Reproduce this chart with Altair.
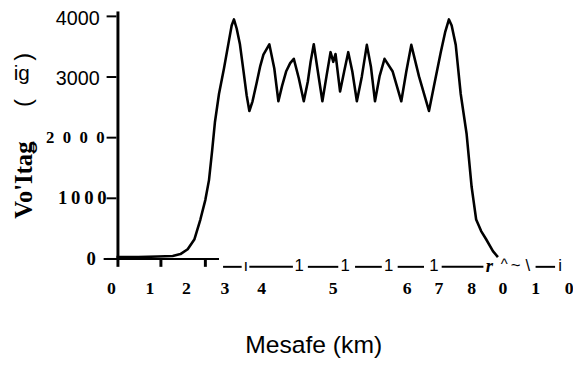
import altair as alt
import pandas as pd

# ---- data ----
dist_km = [0.00, 0.48, 0.91, 1.24, 1.41, 1.57, 1.72, 1.85, 1.96, 2.04, 2.11, 2.17, 2.26, 2.37,
           2.48, 2.54, 2.59, 2.65, 2.72, 2.80, 2.87, 2.93, 3.00, 3.09, 3.17, 3.24, 3.37, 3.48, 3.57,
           3.65, 3.74, 3.83, 3.91, 4.02, 4.13, 4.22, 4.28, 4.35, 4.43, 4.54, 4.63, 4.72, 4.78, 4.83,
           4.93, 5.02, 5.11, 5.20, 5.30, 5.41, 5.52, 5.61, 5.70, 5.80, 5.91, 6.09, 6.28, 6.39,
           6.50, 6.67, 6.89, 7.00, 7.15, 7.25, 7.33, 7.39, 7.48, 7.59, 7.72, 7.83, 7.87, 7.93, 8.04,
           8.15, 8.30, 8.41]
voltage = [30, 30, 40, 50, 80, 160, 325, 650, 975, 1300, 1790, 2250, 2720, 3140,
           3600, 3850, 3950, 3800, 3550, 3100, 2700, 2440, 2600, 2900, 3180, 3370, 3540, 3140, 2600,
           2850, 3090, 3230, 3300, 2980, 2600, 2930, 3250, 3540, 3140, 2600, 3010, 3410, 3250, 3380,
           2760, 3090, 3410, 3090, 2600, 3010, 3530, 3170, 2600, 3010, 3300, 3090, 2600, 3090,
           3530, 3010, 2440, 2850, 3410, 3750, 3950, 3850, 3530, 2720, 2060, 1190, 975, 650, 460,
           325, 130, 30]

y_tick_values = [0, 1000, 2000, 3000, 4000]
y_sans_values = [4000, 3000]
y_sans_labels = ["4000", "3000"]

x_label_text = ["0", "1", "2", "3", "4", "5", "6", "7", "8", "0", "1", "0"]
x_label_km = [-0.11, 0.74, 1.54, 2.39, 3.20, 4.78, 6.41, 7.11, 7.83, 8.52, 9.24, 9.98]

x_tick_km = [0.98, 1.96]

seg_start = [2.35, 2.93, 4.22, 5.26, 6.20, 7.17, 9.24]
seg_end = [2.76, 3.89, 4.89, 5.85, 6.78, 8.09, 9.67]

one_km = [4.03, 5.04, 6.00, 7.00]
one_text = ["1", "1", "1", "1"]
tail_km = [2.85, 8.80, 9.07, 9.78]
tail_text = ["\u0131", "~", "\\", "i"]

SANS = "Liberation Sans"
SERIF = "Liberation Serif"

xs = alt.Scale(domain=[0, 10], nice=False, zero=False)
ys = alt.Scale(domain=[0, 4065], nice=False, zero=False)

curve = pd.DataFrame({"km": dist_km, "v": voltage})
line = alt.Chart(curve).mark_line(color="black", strokeWidth=2.6, strokeJoin="round").encode(
    x=alt.X("km:Q", scale=xs, axis=None),
    y=alt.Y("v:Q", scale=ys, axis=None),
)

one = pd.DataFrame({"a": [1]})
yaxis = alt.Chart(one).mark_rule(color="black", strokeWidth=3).encode(
    x=alt.value(1.5), y=alt.value(-1), y2=alt.value(258))
xaxis = alt.Chart(one).mark_rule(color="black", strokeWidth=2).encode(
    x=alt.value(-13), x2=alt.value(104), y=alt.value(250))

yticks = alt.Chart(pd.DataFrame({"v": y_tick_values})).mark_rule(color="black", strokeWidth=2).encode(
    y=alt.Y("v:Q", scale=ys, axis=None), x=alt.value(-10), x2=alt.value(0))
xticks = alt.Chart(pd.DataFrame({"km": x_tick_km})).mark_rule(color="black", strokeWidth=3).encode(
    x=alt.X("km:Q", scale=xs, axis=None), y=alt.value(250), y2=alt.value(258))

ylab_sans = alt.Chart(pd.DataFrame({"v": y_sans_values, "t": y_sans_labels})).mark_text(
    font=SANS, fontSize=20, align="right", baseline="alphabetic", dy=8.5, color="black").encode(
    y=alt.Y("v:Q", scale=ys, axis=None), x=alt.value(-17), text="t:N")

ylab_2000 = alt.Chart(pd.DataFrame({"v": [2000], "t": ["2\u20020\u20020\u20020"]})).mark_text(
    font=SERIF, fontWeight="bold", fontSize=17, align="right", baseline="middle", color="black").encode(
    y=alt.Y("v:Q", scale=ys, axis=None), x=alt.value(-12), text="t:N")
ylab_1000 = alt.Chart(pd.DataFrame({"v": [1000], "t": ["1\u20090\u20090\u20090"]})).mark_text(
    font=SERIF, fontWeight="bold", fontSize=19, align="right", baseline="middle", color="black").encode(
    y=alt.Y("v:Q", scale=ys, axis=None), x=alt.value(-10), text="t:N")
ylab_0 = alt.Chart(pd.DataFrame({"v": [0], "t": ["0"]})).mark_text(
    font=SERIF, fontWeight="bold", fontSize=19, align="right", baseline="middle", color="black").encode(
    y=alt.Y("v:Q", scale=ys, axis=None), x=alt.value(-21), text="t:N")

xlab = alt.Chart(pd.DataFrame({"km": x_label_km, "t": x_label_text})).mark_text(
    font=SERIF, fontWeight="bold", fontSize=18, align="center", baseline="middle", color="black").encode(
    x=alt.X("km:Q", scale=xs, axis=None), y=alt.value(281), text="t:N")

segs = alt.Chart(pd.DataFrame({"a": seg_start, "b": seg_end})).mark_rule(color="black", strokeWidth=2).encode(
    x=alt.X("a:Q", scale=xs, axis=None), x2="b:Q", y=alt.value(258))

ones = alt.Chart(pd.DataFrame({"km": one_km, "t": one_text})).mark_text(
    font=SANS, fontSize=17, align="center", baseline="middle", color="black").encode(
    x=alt.X("km:Q", scale=xs, axis=None), y=alt.value(257), text="t:N")
tails = alt.Chart(pd.DataFrame({"km": tail_km, "t": tail_text})).mark_text(
    font=SANS, fontSize=17, align="center", baseline="middle", color="black").encode(
    x=alt.X("km:Q", scale=xs, axis=None), y=alt.value(257), text="t:N")
r_glyph = alt.Chart(pd.DataFrame({"km": [8.22], "t": ["r"]})).mark_text(
    font=SERIF, fontSize=19, fontWeight="bold", fontStyle="italic", align="center", baseline="middle",
    color="black").encode(x=alt.X("km:Q", scale=xs, axis=None), y=alt.value(257), text="t:N")
caret = alt.Chart(pd.DataFrame({"km": [8.55], "t": ["^"]})).mark_text(
    font=SANS, fontSize=15, align="center", baseline="middle", color="black").encode(
    x=alt.X("km:Q", scale=xs, axis=None), y=alt.value(255), text="t:N")

xtitle = alt.Chart(pd.DataFrame({"t": ["Mesafe (km)"]})).mark_text(
    font=SANS, fontSize=25, align="center", baseline="middle", color="black").encode(
    x=alt.value(200), y=alt.value(337), text="t:N")

ytitle = alt.Chart(pd.DataFrame({"t": ["Vo'Ita\u01e5"]})).mark_text(
    font=SERIF, fontSize=25, fontWeight="bold", angle=270, align="center", baseline="middle",
    color="black").encode(x=alt.value(-94), y=alt.value(170), text="t:N")
ytitle_ig = alt.Chart(pd.DataFrame({"t": ["ig"]})).mark_text(
    font=SANS, fontSize=21, align="center", baseline="middle", color="black").encode(
    x=alt.value(-96), y=alt.value(63), text="t:N")
ytitle_close = alt.Chart(pd.DataFrame({"t": [")"]})).mark_text(
    font=SANS, fontSize=24, angle=270, align="center", baseline="middle", color="black").encode(
    x=alt.value(-94), y=alt.value(45), text="t:N")
ytitle_open = alt.Chart(pd.DataFrame({"t": ["("]})).mark_text(
    font=SANS, fontSize=24, angle=270, align="center", baseline="middle", color="black").encode(
    x=alt.value(-94), y=alt.value(92), text="t:N")

chart = alt.layer(
    line, yaxis, xaxis, yticks, xticks, ylab_sans, ylab_2000, ylab_1000, ylab_0, xlab,
    segs, ones, tails, r_glyph, caret, xtitle, ytitle, ytitle_ig, ytitle_close, ytitle_open
).properties(
    width=460, height=250,
    autosize=alt.AutoSizeParams(type="none"),
    padding={"left": 110, "top": 2, "right": 3, "bottom": 101},
    background="white",
).configure_view(stroke=None)

chart.save("out.html", embed_options={"renderer": "svg", "actions": False})
